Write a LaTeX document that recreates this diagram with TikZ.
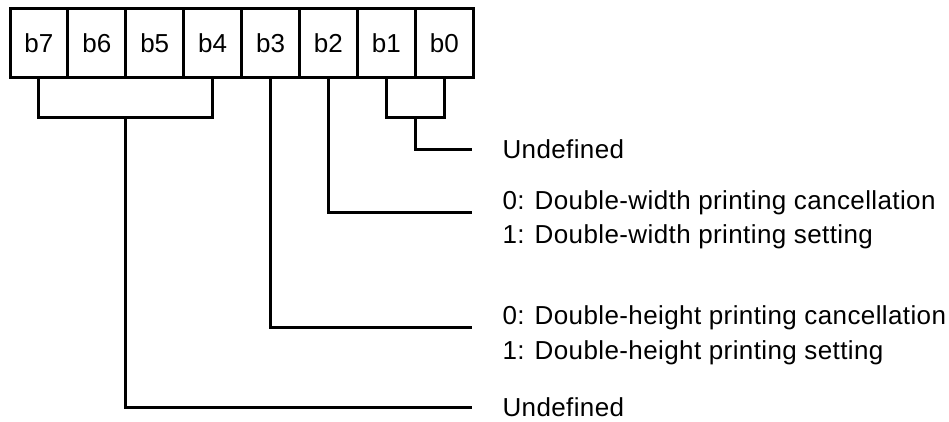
\documentclass[tikz,border=0pt]{standalone}
\usepackage{fontspec}
\setmainfont{Liberation Sans}
\begin{document}
\begin{tikzpicture}[x=1pt, y=-1pt, line width=3pt, line join=miter,
  bitcell/.style={draw, rectangle, minimum width=57.9pt, minimum height=69pt,
    inner sep=0pt, font=\fontsize{26}{30}\selectfont},
  wire/.style={draw, line width=3pt},
  desc/.style={anchor=base west, inner sep=0pt,
    font=\fontsize{26}{30}\selectfont\addfontfeature{LetterSpace=1.5}}]
\useasboundingbox (0,0) rectangle (949,421);

% the eight bit cells of the byte
\foreach \name [count=\i from 0] in {b7,b6,b5,b4,b3,b2,b1,b0}
  \node[bitcell] (\name) at ({10+57.9*(\i+0.5)}, 42.75) {\name};

% junction and end points of the connectors
\coordinate (brk) at (0,117);
\coordinate (j74) at (125.8,117);
\coordinate (j10) at (415.3,117);
\coordinate (e10) at (472,149);
\coordinate (e2)  at (472,212);
\coordinate (e3)  at (472,327);
\coordinate (e74) at (472,407);

% connectors
\draw[wire] (b7.south) |- (b4.south |- brk) -- (b4.south);
\draw[wire] (j74) |- (e74);
\draw[wire] (b1.south) |- (b0.south |- brk) -- (b0.south);
\draw[wire] (j10) |- (e10);
\draw[wire] (b2.south) |- (e2);
\draw[wire] (b3.south) |- (e3);

% descriptions
\node[desc] (t10)  at (501,158) {Undefined};
\node[desc] (t2a)  at (501,209) {0: Double-width printing cancellation};
\node[desc] (t2b)  at (501,243) {1: Double-width printing setting};
\node[desc] (t3a)  at (501,324) {0: Double-height printing cancellation};
\node[desc] (t3b)  at (501,359) {1: Double-height printing setting};
\node[desc] (t74)  at (501,416) {Undefined};
\end{tikzpicture}
\end{document}
